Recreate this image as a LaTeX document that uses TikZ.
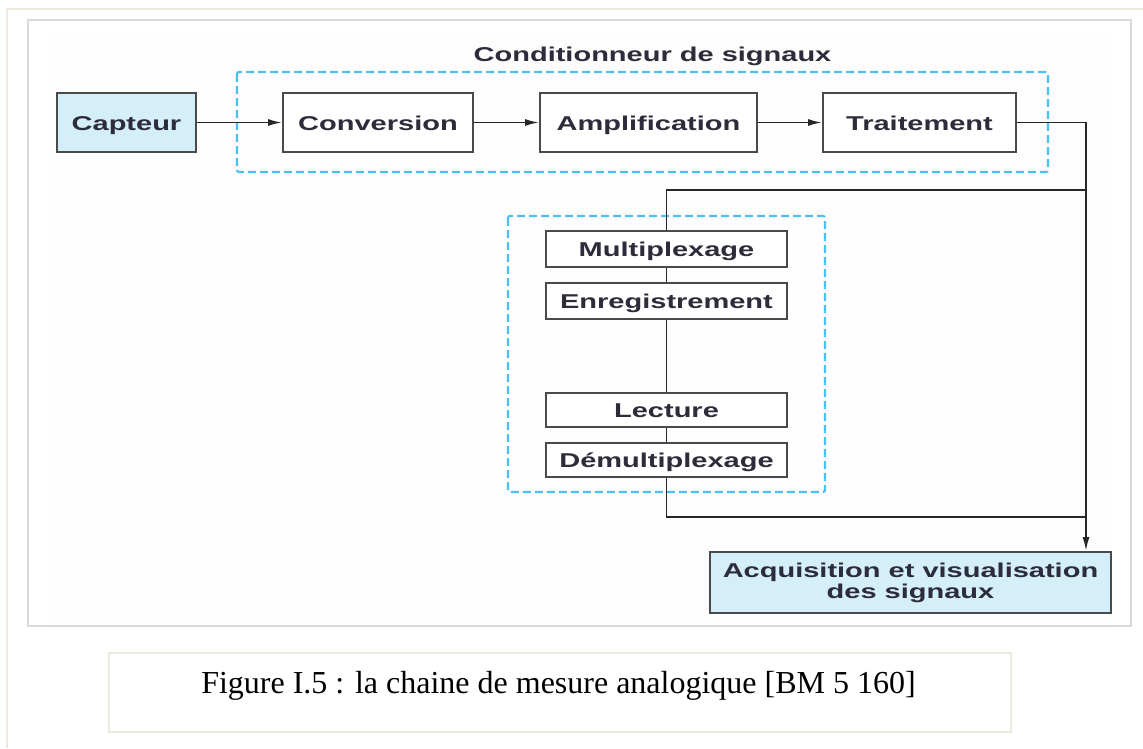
\documentclass[tikz,border=0pt]{standalone}
\usepackage{fontspec}
\setmainfont{Liberation Serif}
\newfontfamily\wb[FakeStretch=1.45]{Liberation Sans}
\usetikzlibrary{arrows.meta}
\definecolor{beige}{HTML}{EDE9DF}
\definecolor{framegray}{HTML}{DADADA}
\definecolor{cyanline}{HTML}{4DBFF0}
\definecolor{boxblue}{HTML}{D4EEFA}
\definecolor{boxline}{HTML}{4A4A4A}
\definecolor{txt}{HTML}{2C2C3A}
\tikzset{
  blk/.style={draw=boxline, line width=2pt, fill=white, minimum height=59pt, inner sep=0pt,
    text height=17pt, text depth=2pt,
    font=\wb\bfseries\fontsize{20}{21}\selectfont, text=txt},
  vblk/.style={blk, minimum width=241pt},
  grp/.style={draw=cyanline, line width=2.2pt, dash pattern=on 8pt off 4pt, rounded corners=2pt},
  wire/.style={draw=black!85, line width=1.8pt},
  arr/.style={wire, -{Latex[length=14pt,width=7pt]}},
}
\begin{document}
\begin{tikzpicture}[x=1pt,y=-1pt]
\useasboundingbox (0,0) rectangle (1143,748);
% frames
\fill[white] (0,0) rectangle (1143,748);
\draw[beige, line width=1.5pt] (7,748) -- (7,9) -- (1143,9);
\fill[black!0.6] (47,33) rectangle (1112,626);
\draw[framegray, line width=1.2pt] (28,20) rectangle (1131,626);
% caption
\draw[beige, line width=1.5pt] (109,653) rectangle (1011,732);
\node[anchor=base, inner sep=0pt, font=\fontsize{32}{36}\selectfont] (cap) at (558.5,693) {Figure I.5 : la chaine de mesure analogique [BM 5 160]};
% groups
\draw[grp] (237,72) rectangle (1048,172);
\node[font=\wb\bfseries\fontsize{20}{21}\selectfont, text=txt, inner sep=0pt] (ttl) at (652.5,56) {Conditionneur de signaux};
\draw[grp] (508,216) rectangle (825,492);
% top row
\node[blk, fill=boxblue, minimum width=139pt] (capt) at (126.5,122.5) {Capteur};
\node[blk, minimum width=190pt] (conv) at (378,122.5) {Conversion};
\node[blk, minimum width=217pt] (ampl) at (648.5,122.5) {Amplification};
\node[blk, minimum width=193pt] (trait) at (919.5,122.5) {Traitement};
% vertical stack
\node[vblk, minimum height=36pt] (mux) at (666.5,249) {Multiplexage};
\node[vblk, minimum height=36pt] (enr) at (666.5,301) {Enregistrement};
\node[vblk, minimum height=34pt] (lec) at (666.5,410) {Lecture};
\node[vblk, minimum height=34pt] (demux) at (666.5,460) {Démultiplexage};
% output
\node[blk, fill=boxblue, minimum width=401pt, minimum height=61pt, text height=, text depth=, align=center] (acq) at (910.5,582.5) {Acquisition et visualisation\\des signaux};
% junctions
\coordinate (j0) at (1086,122.5);
\coordinate (j1) at (1086,190);
\coordinate (j2) at (1086,517);
% connectors
\draw[arr] (capt) -- (conv);
\draw[arr] (conv) -- (ampl);
\draw[arr] (ampl) -- (trait);
\draw[arr] (trait.east) -- (j0) -- (j0 |- acq.north);
\draw[wire] (j1) -- (j1 -| mux.north) -- (mux.north);
\draw[wire] (mux) -- (enr);
\draw[wire] (enr) -- (lec);
\draw[wire] (lec) -- (demux);
\draw[wire] (demux.south) -- (demux.south |- j2) -- (j2);
\end{tikzpicture}
\end{document}
